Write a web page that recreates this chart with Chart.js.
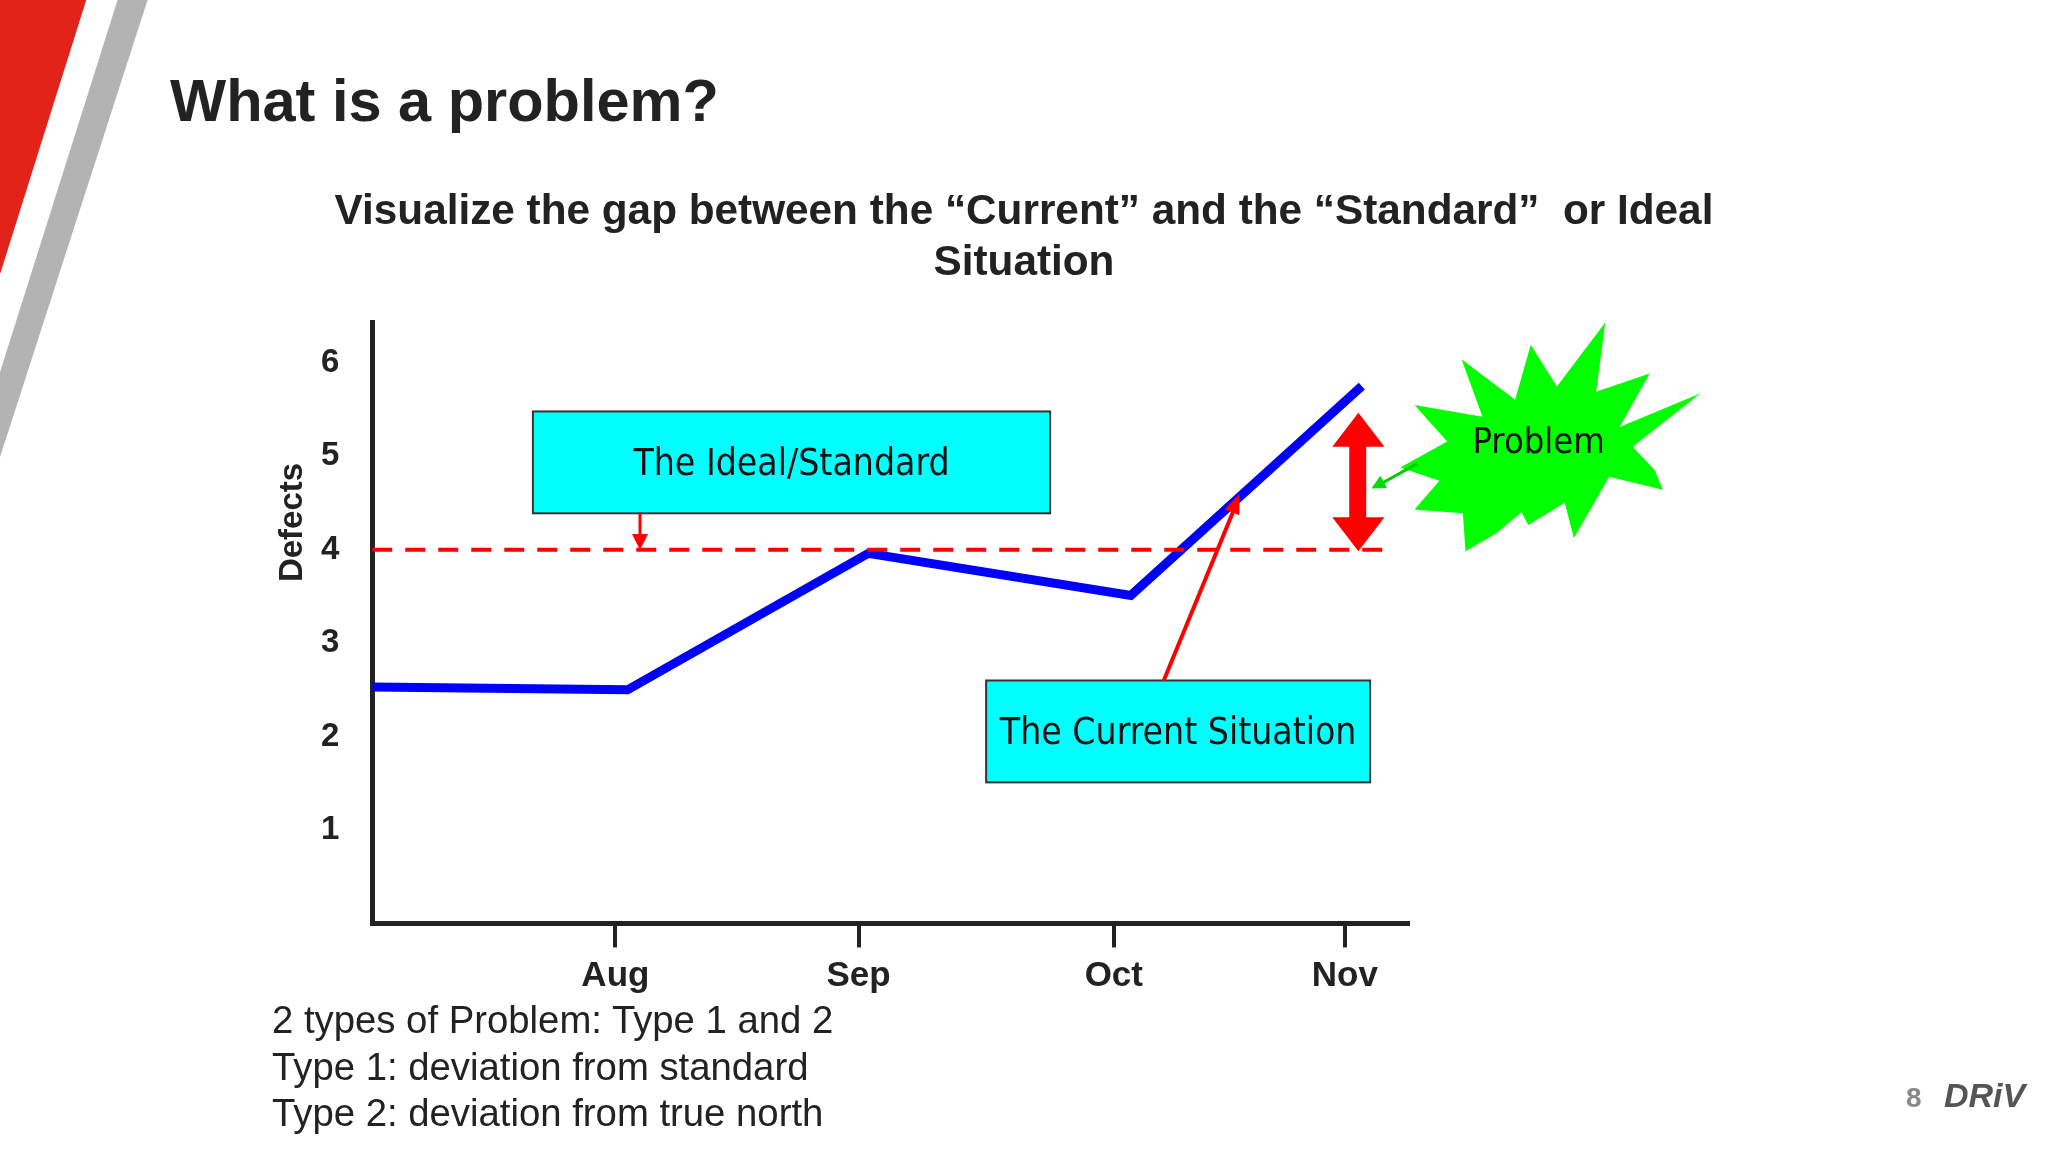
<!DOCTYPE html>
<html><head><meta charset="utf-8">
<script src="https://cdn.jsdelivr.net/npm/chart.js@4"></script>
<style>
html,body{margin:0;padding:0;background:#fff;width:2048px;height:1152px;overflow:hidden;font-family:"Liberation Sans",Arial,sans-serif}
#wrap{position:absolute;left:0;top:0;width:2048px;height:1152px}
.t{position:absolute;color:#222;white-space:nowrap}
</style></head><body>
<div id="wrap"><canvas id="c" width="2048" height="1152"></canvas></div>
<div class="t" style="left:170px;top:66px;font-size:59.5px;font-weight:bold">What is a problem?</div>
<div class="t" style="left:0;width:2048px;text-align:center;top:184px;font-size:42.3px;font-weight:bold;line-height:51px">Visualize the gap between the “Current” and the “Standard”&nbsp; or Ideal<br>Situation</div>
<div class="t" style="left:272px;top:997px;font-size:38.3px;line-height:46.5px">2 types of Problem: Type 1 and 2<br>Type 1: deviation from standard<br>Type 2: deviation from true north</div>
<div class="t" style="left:1906px;top:1082px;font-size:28px;color:#888;font-weight:bold">8</div>
<div class="t" style="left:1944px;top:1076px;font-size:34px;color:#555;font-style:italic;font-weight:bold">DRiV</div>
<script>
const months = ["Aug","Sep","Oct","Nov"];
const monthPos = [1, 2, 3.05, 4];
const currentX = [0, 1.05, 2.04, 3.12, 4.07];
const currentY = [2.53, 2.5, 3.96, 3.51, 5.75];
const standardX = [0, 4.2];
const standardY = [4, 4];
const yTicks = [1, 2, 3, 4, 5, 6];

const s = 2048/1568;
const S = v => v*s;

function arrowHead(ctx,x1,y1,x2,y2,len,w,color){
  const a=Math.atan2(y2-y1,x2-x1);
  ctx.fillStyle=color;ctx.beginPath();
  ctx.moveTo(x2,y2);
  ctx.lineTo(x2-len*Math.cos(a)+w*Math.sin(a), y2-len*Math.sin(a)-w*Math.cos(a));
  ctx.lineTo(x2-len*Math.cos(a)-w*Math.sin(a), y2-len*Math.sin(a)+w*Math.cos(a));
  ctx.closePath();ctx.fill();
}
function line(ctx,x1,y1,x2,y2,w,color){ctx.strokeStyle=color;ctx.lineWidth=w;ctx.beginPath();ctx.moveTo(x1,y1);ctx.lineTo(x2,y2);ctx.stroke();}
function box(ctx,x,y,w,h,text){
  ctx.fillStyle='#00ffff';ctx.fillRect(S(x),S(y),S(w),S(h));
  ctx.strokeStyle='#333';ctx.lineWidth=2;ctx.strokeRect(S(x),S(y),S(w),S(h));
  ctx.fillStyle='#111';ctx.font='37px "DejaVu Sans Condensed","DejaVu Sans",sans-serif';
  ctx.textAlign='center';ctx.textBaseline='middle';
  ctx.fillText(text,S(x+w/2),S(y+h/2+2));
}
const deco = {
  id:'deco',
  beforeDraw(chart){
    const ctx=chart.ctx;ctx.save();
    ctx.fillStyle='#e2231a';ctx.beginPath();ctx.moveTo(0,0);ctx.lineTo(S(66),0);ctx.lineTo(0,S(210));ctx.closePath();ctx.fill();
    ctx.fillStyle='#b3b3b3';ctx.beginPath();ctx.moveTo(S(90),0);ctx.lineTo(S(113),0);ctx.lineTo(0,S(350));ctx.lineTo(0,S(285));ctx.closePath();ctx.fill();
    ctx.restore();
  },
  afterDraw(chart){
    const ctx=chart.ctx;ctx.save();
    // y axis title
    ctx.save();ctx.translate(S(224),S(400));ctx.rotate(-Math.PI/2);
    ctx.fillStyle='#222';ctx.font='bold 33px "Liberation Sans",Arial';ctx.textAlign='center';ctx.textBaseline='middle';
    ctx.fillText('Defects',0,0);ctx.restore();
    // boxes
    box(ctx,408,315,396,78,'The Ideal/Standard');
    box(ctx,755,521,294,78,'The Current Situation');
    line(ctx,S(490),S(393),S(490),S(410),3,'#ff0000');
    arrowHead(ctx,S(490),S(393),S(490),S(421),16,8,'#ff0000');
    line(ctx,S(891),S(521),S(944),S(392),4,'#ff0000');
    arrowHead(ctx,S(891),S(521),S(949),S(378),20,8,'#ff0000');
    ctx.fillStyle='#ff0000';
    ctx.fillRect(S(1033),S(340),S(13),S(58));
    arrowHead(ctx,S(1040),S(360),S(1040),S(316),S(26),S(20),'#ff0000');
    arrowHead(ctx,S(1040),S(380),S(1040),S(422),S(26),S(20),'#ff0000');
    const pts=[[1229,247],[1222,300],[1263,286],[1240,327],[1302,301],[1250,342],[1267,360],[1273,375],[1232,365],[1205,412],[1198,385],[1170,402],[1165,392],[1146,408],[1122,422],[1120,393],[1083,390],[1102,368],[1072,358],[1108,338],[1083,310],[1135,319],[1119,275],[1160,306],[1172,264],[1192,296]];
    ctx.fillStyle='#00ff00';ctx.beginPath();
    pts.forEach((p,i)=>i?ctx.lineTo(S(p[0]),S(p[1])):ctx.moveTo(S(p[0]),S(p[1])));
    ctx.closePath();ctx.fill();
    ctx.fillStyle='#111';ctx.font='36px "DejaVu Sans Condensed","DejaVu Sans",sans-serif';
    ctx.textAlign='center';ctx.textBaseline='middle';ctx.fillText('Problem',S(1178),S(340));
    line(ctx,S(1085),S(355),S(1058),S(370),3,'#00cc00');
    arrowHead(ctx,S(1085),S(355),S(1050),S(374),14,7,'#00dd00');
    ctx.restore();
  }
};
new Chart(document.getElementById('c'),{
  type:'scatter',
  data:{datasets:[
    {data:standardX.map((x,i)=>({x,y:standardY[i]})),showLine:true,borderColor:'#ff0000',borderWidth:4,borderDash:[20,13],pointRadius:0},
    {data:currentX.map((x,i)=>({x,y:currentY[i]})),showLine:true,borderColor:'#0000ff',borderWidth:9,pointRadius:0,borderJoinStyle:'miter'}
  ]},
  options:{
    responsive:false,animation:false,
    layout:{padding:{top:S(247),right:2048-S(1078),bottom:0,left:0}},
    plugins:{legend:{display:false},tooltip:{enabled:false}},
    scales:{
      x:{type:'linear',min:0,max:4.26,
        afterBuildTicks(sc){sc.ticks=monthPos.map(v=>({value:v}));},
        afterFit(sc){sc.height=1152-S(707);},
        ticks:{callback:(v,i)=>months[i],color:'#222',font:{family:'"Liberation Sans",Arial',size:35,weight:'bold'},padding:8},
        grid:{drawOnChartArea:false,drawTicks:true,tickLength:24,lineWidth:4,color:'#222'},
        border:{display:true,width:5,color:'#222'}},
      y:{type:'linear',min:0,max:6.43,
        afterBuildTicks(sc){sc.ticks=yTicks.map(v=>({value:v}));},
        afterFit(sc){sc.width=S(285);},
        ticks:{color:'#222',font:{family:'"Liberation Sans",Arial',size:33,weight:'bold'},padding:25},
        grid:{display:false},
        border:{display:true,width:5,color:'#222'}}
    }
  },
  plugins:[deco]
});
</script></body></html>
